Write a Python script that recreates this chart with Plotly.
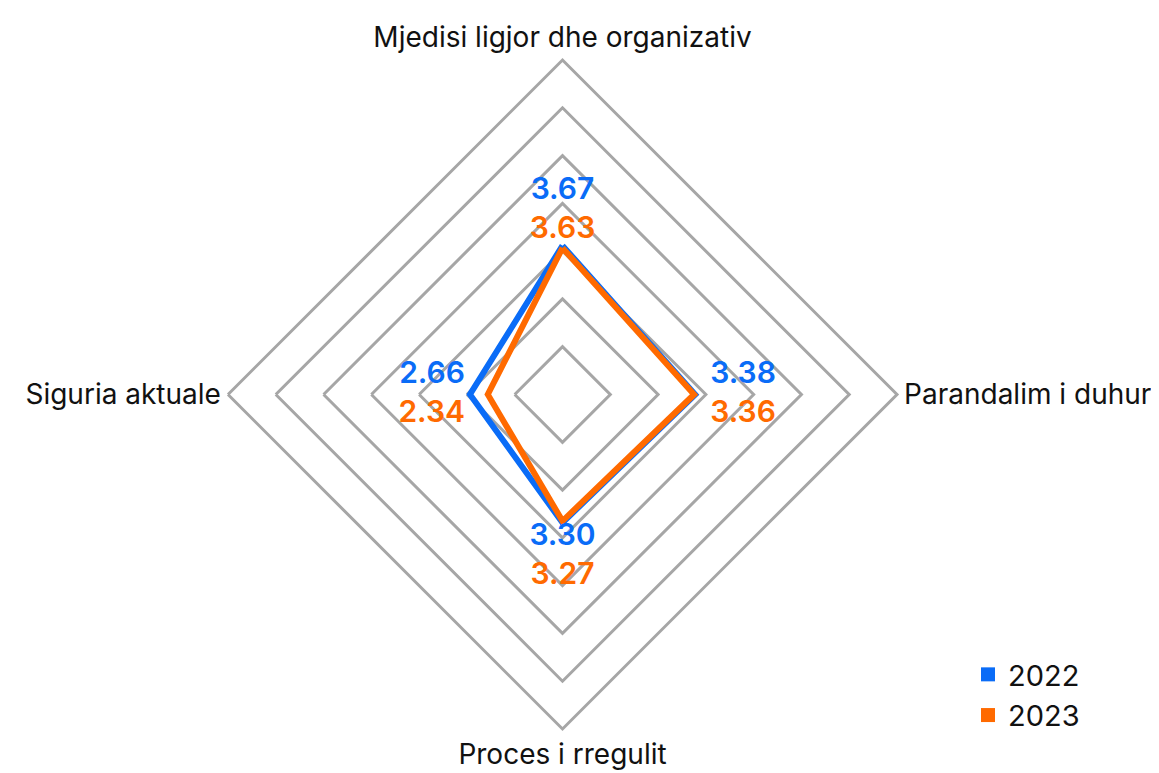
import plotly.graph_objects as go

categories = ["Mjedisi ligjor dhe organizativ", "Parandalim i duhur", "Proces i rregulit", "Siguria aktuale"]
years = ["2022", "2023"]
values_2022 = [3.67, 3.38, 3.30, 2.66]
values_2023 = [3.63, 3.36, 3.27, 2.34]
grid_levels = [1 + 6 * k / 7 for k in range(1, 8)]

BLUE = "#0A6CF7"
ORANGE = "#FF6A00"
GRID = "#A6A6A6"
FONT = "Inter"

positions = ["top center", "middle right", "bottom center", "middle left"]

def fmt(v, pos):
    s = f"{v:.2f}"
    if pos == "middle right":
        return "\u00a0\u00a0" + s
    if pos == "middle left":
        return s + "\u2009"
    return s

# both labels anchored at the outer of the two points; blue stacked above orange
label_r = [max(a, b) for a, b in zip(values_2022, values_2023)]
text_2022 = []
text_2023 = []
for i, (a, b) in enumerate(zip(values_2022, values_2023)):
    pos = positions[i]
    if pos == "top center":
        text_2022.append(fmt(a, pos) + "<br>\u00a0")
        text_2023.append(fmt(b, pos))
    elif pos == "bottom center":
        text_2022.append(fmt(a, pos))
        text_2023.append("\u00a0<br>" + fmt(b, pos))
    else:
        text_2022.append(fmt(a, pos) + "<br>\u00a0")
        text_2023.append("\u00a0<br>" + fmt(b, pos))

fig = go.Figure()

for vals, color in [(values_2022, BLUE), (values_2023, ORANGE)]:
    fig.add_trace(go.Scatterpolar(
        r=vals + [vals[0]],
        theta=categories + [categories[0]],
        mode="lines",
        line=dict(color=color, width=6),
        showlegend=False,
        hoverinfo="skip",
    ))

for txt, color in [(text_2022, BLUE), (text_2023, ORANGE)]:
    fig.add_trace(go.Scatterpolar(
        r=label_r,
        theta=categories,
        mode="text",
        text=txt,
        textposition=positions,
        textfont=dict(family=FONT, size=30, color=color, weight=600),
        showlegend=False,
        hoverinfo="skip",
    ))

# legend entries
for color, name in [(BLUE, years[0]), (ORANGE, years[1])]:
    fig.add_trace(go.Scatterpolar(
        r=[None], theta=[categories[0]],
        mode="markers",
        marker=dict(symbol="square", size=14, color=color),
        name=name,
    ))

fig.update_layout(
    width=1159, height=773,
    margin=dict(l=0, r=0, t=0, b=0),
    paper_bgcolor="white",
    plot_bgcolor="white",
    font=dict(family=FONT, color="#111111"),
    polar=dict(
        domain=dict(x=[220 / 1159, 889 / 1159], y=[52 / 773, 721 / 773]),
        bgcolor="white",
        gridshape="linear",
        radialaxis=dict(
            range=[1, 7],
            tickvals=grid_levels,
            showticklabels=False,
            ticks="",
            showline=False,
            showgrid=True,
            gridcolor=GRID,
            gridwidth=3,
        ),
        angularaxis=dict(
            rotation=90,
            direction="clockwise",
            showgrid=False,
            showline=True,
            linecolor=GRID,
            linewidth=3,
            ticks="",
            tickfont=dict(family=FONT, size=28, color="#111111"),
        ),
    ),
    legend=dict(
        x=960 / 1159, y=40 / 773, xanchor="left", yanchor="bottom",
        font=dict(family=FONT, size=29, color="#111111"),
        itemwidth=30,
        tracegroupgap=0,
        bgcolor="rgba(0,0,0,0)",
    ),
)

fig.write_html("out.html")
